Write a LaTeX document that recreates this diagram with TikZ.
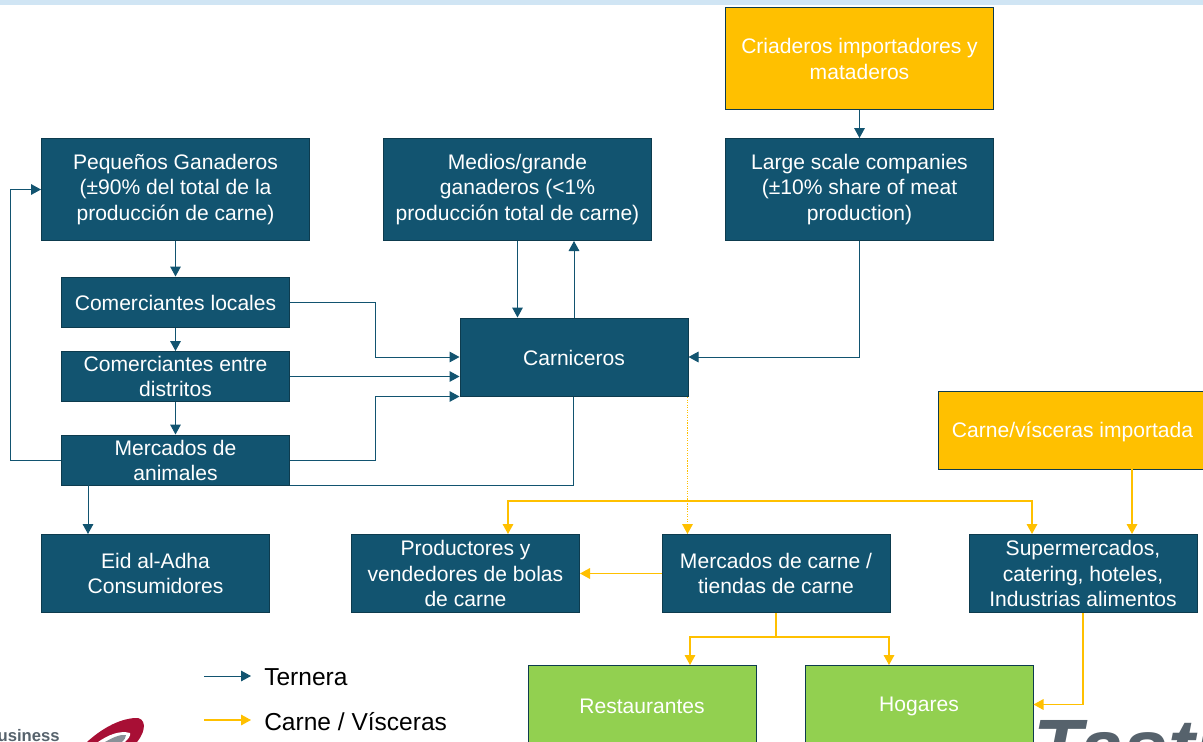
\documentclass[tikz,border=0pt]{standalone}
\usepackage{fontspec}
\setmainfont{Liberation Sans}
\usepackage{tikz}
\usetikzlibrary{arrows.meta}
\definecolor{teal}{HTML}{125470}
\definecolor{gold}{HTML}{FFC000}
\definecolor{leaf}{HTML}{92D050}
\definecolor{band}{HTML}{D0E5F4}
\definecolor{slate}{HTML}{56626C}
\definecolor{wine}{HTML}{A80F35}
\tikzset{
  box/.style={draw=teal!70!black,line width=0.75pt,fill=teal,text=white,align=center,inner sep=0pt,
    font=\fontsize{15.8}{18.8}\selectfont,execute at begin node={\rule{0pt}{#1}}},
  box/.default=16pt,
  gbox/.style={box=#1,fill=gold},
  gbox/.default=16pt,
  lbox/.style={box=13.5pt,fill=leaf},
  beef/.style={draw=teal,line width=0.75pt,-{Triangle[length=7.5pt,width=8pt]}},
  beefline/.style={draw=teal,line width=0.75pt},
  offal/.style={draw=gold,line width=0.9pt,-{Triangle[length=7.5pt,width=8pt]}},
  key/.style={font=\fontsize{18.4}{20}\selectfont,anchor=west,inner sep=0pt},
}
\begin{document}
\begin{tikzpicture}
    \pgfsetxvec{\pgfpoint{0.75pt}{0}}
    \pgfsetyvec{\pgfpoint{0}{-0.75pt}}
    \useasboundingbox (0,0) rectangle (1203,742);
    \clip (0,0) rectangle (1203,742);
    \fill[band] (0,0) rectangle (1203,5);

    % logos
    \node[anchor=base east,inner sep=0pt,text=slate,font=\fontsize{12.5}{15}\selectfont\bfseries] (business) at (60,741) {Business};
    \fill[wine] (87,742) .. controls (100,730) and (118,719) .. (135,718) .. controls (146,717) and (147,730) .. (137,742) -- cycle;
    \fill[white] (98,742) .. controls (108,735) and (120,730) .. (130,733) .. controls (131,736) and (128,739) .. (125,742) -- cycle;
    \fill[slate!70] (105,742) .. controls (112,738) and (120,734) .. (126,735) .. controls (126,738) and (124,740) .. (122,742) -- cycle;
    \node[anchor=base west,inner sep=0pt,text=slate,font=\fontsize{60}{62}\selectfont\bfseries\itshape] (tasti) at (1033,775) {Tasti};

    % top row
    \node[gbox,minimum width=201pt,minimum height=76.5pt] (criaderos) at (859.5,59) {Criaderos importadores y\\mataderos};
    \node[box=19.75pt,minimum width=201pt,minimum height=76.5pt] (pequenos) at (175.5,189.5) {Pequeños Ganaderos\\(±90\% del total de la\\producción de carne)};
    \node[box=19.75pt,minimum width=201pt,minimum height=76.5pt] (medios) at (517.5,189.5) {Medios/grande\\ganaderos (<1\%\\producción total de carne)};
    \node[box=19.75pt,minimum width=201pt,minimum height=76.5pt] (large) at (859.5,189.5) {Large scale companies\\(±10\% share of meat\\production)};

    % left column
    \node[box=12.5pt,minimum width=171pt,minimum height=37.5pt] (locales) at (175.5,302) {Comerciantes locales};
    \node[box,minimum width=171pt,minimum height=37.5pt] (distritos) at (175.5,376.5) {Comerciantes entre\\distritos};
    \node[box,minimum width=171pt,minimum height=37.5pt] (animales) at (175.5,460) {Mercados de\\animales};
    \node[box,minimum width=171pt,minimum height=58.5pt] (eid) at (155.5,573.5) {Eid al-Adha\\Consumidores};

    \node[box=12.5pt,minimum width=171pt,minimum height=58.5pt] (carniceros) at (574,357) {Carniceros};

    % bottom rows
    \node[box,minimum width=171pt,minimum height=58.5pt] (bolas) at (465.5,573.5) {Productores y\\vendedores de bolas\\de carne};
    \node[box,minimum width=171pt,minimum height=58.5pt] (tiendas) at (776,573.5) {Mercados de carne /\\tiendas de carne};
    \node[box,minimum width=171pt,minimum height=58.5pt] (super) at (1083,573.5) {Supermercados,\\catering, hoteles,\\Industrias alimentos};
    \node[gbox=14.5pt,minimum width=201pt,minimum height=58.5pt] (importada) at (1072.5,430) {Carne/vísceras importada};
    \node[lbox,minimum width=171pt,minimum height=58.5pt] (restaurantes) at (642,704.5) {Restaurantes};
    \node[lbox,minimum width=171pt,minimum height=58.5pt] (hogares) at (919,704.5) {Hogares};

    % beef flows
    \draw[beef] (criaderos) -- (large);
    \draw[beef] (pequenos) -- (locales);
    \draw[beef] (locales) -- (distritos);
    \draw[beef] (distritos) -- (animales);
    \draw[beef] (animales.180) -- ++(-51,0) |- (pequenos.west);
    \draw[beef] (locales.east) -- (375,302) |- (carniceros.west);
    \draw[beef] (distritos.east) -- (carniceros.west |- distritos.east);
    \draw[beef] (animales.east) -- (375,460) |- (carniceros.south west);
    \draw[beefline] (animales.south east) -- (573.5,485.5) -- (573.5,397);
    \draw[beef] (medios.south) -- (medios.south |- carniceros.north);
    \draw[beef] (carniceros.north) -- (carniceros.north |- medios.south);
    \draw[beef] (large.south) |- (carniceros.east);
    \draw[beef] (88,485) -- (88,534);

    % meat and offal flows
    \coordinate (split) at (687.5,501);
    \draw[offal,densely dotted] (687.5,397) -- (687.5,534);
    \draw[offal] (split) -| (508,534);
    \draw[offal] (split) -| (1032,534);
    \draw[offal] (tiendas.west) -- (bolas.east);
    \draw[offal] (tiendas.south) -- (776,637) -| (690,665);
    \draw[offal] (776,637) -| (889,665);
    \draw[offal] (1132,469) -- (1132,534);
    \draw[offal] (super.south) |- (hogares.east);

    % key
    \coordinate (keya) at (204,676);
    \coordinate (keyb) at (204,720);
    \node[key] (ternera) at (264,677) {Ternera};
    \node[key] (visceras) at (264,722) {Carne / Vísceras};
    \draw[beef] (keya) -- ++(47,0);
    \draw[offal] (keyb) -- ++(47,0);
\end{tikzpicture}
\end{document}
